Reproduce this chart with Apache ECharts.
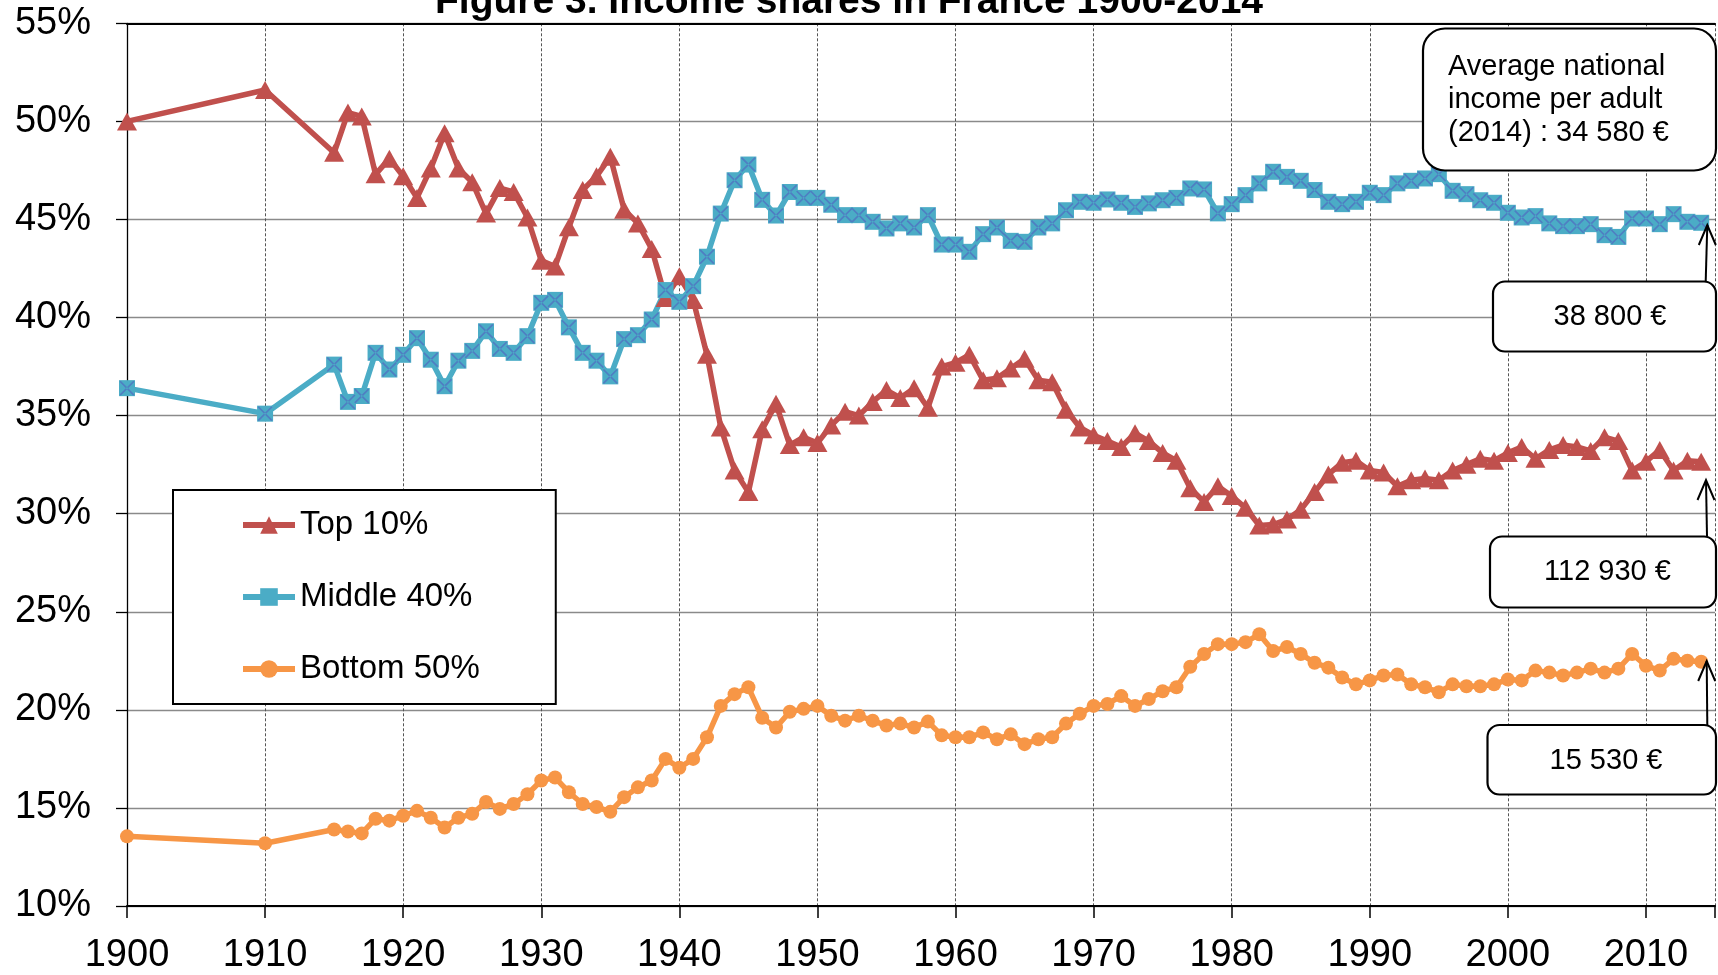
<!DOCTYPE html>
<html>
<head>
<meta charset="utf-8">
<script src="https://cdn.jsdelivr.net/npm/echarts/dist/echarts.min.js"></script>
<style>
html,body{margin:0;padding:0;background:#fff;}
#chart{width:1718px;height:975px;}
</style>
</head>
<body>
<div id="chart"></div>
<script>
var years = [1900,1910,1915,1916,1917,1918,1919,1920,1921,1922,1923,1924,1925,1926,1927,1928,1929,
1930,1931,1932,1933,1934,1935,1936,1937,1938,1939,1940,1941,1942,1943,1944,1945,1946,1947,1948,1949,
1950,1951,1952,1953,1954,1955,1956,1957,1958,1959,1960,1961,1962,1963,1964,1965,1966,1967,1968,1969,
1970,1971,1972,1973,1974,1975,1976,1977,1978,1979,1980,1981,1982,1983,1984,1985,1986,1987,1988,1989,
1990,1991,1992,1993,1994,1995,1996,1997,1998,1999,2000,2001,2002,2003,2004,2005,2006,2007,2008,2009,
2010,2011,2012,2013,2014];

var top10 = [50.0,51.6,48.4,50.45,50.25,47.3,48.1,47.2,46.1,47.6,49.4,47.6,46.9,45.3,46.6,46.4,45.1,
42.9,42.6,44.6,46.5,47.2,48.2,45.5,44.8,43.5,41.0,42.1,40.9,38.1,34.4,32.2,31.1,34.3,35.6,33.5,33.9,
33.6,34.5,35.2,35.0,35.7,36.3,35.9,36.4,35.4,37.5,37.7,38.1,36.8,36.9,37.4,37.9,36.8,36.7,35.3,34.4,
34.0,33.7,33.4,34.1,33.7,33.1,32.7,31.3,30.6,31.4,30.9,30.3,29.4,29.45,29.7,30.2,31.1,32.0,32.6,32.7,
32.2,32.1,31.4,31.7,31.8,31.7,32.2,32.5,32.8,32.7,33.1,33.4,32.8,33.25,33.5,33.4,33.2,33.9,33.7,32.2,
32.65,33.25,32.2,32.7,32.65];

var middle40 = [36.4,35.1,37.6,35.7,36.0,38.2,37.35,38.1,38.95,37.85,36.5,37.8,38.3,39.3,38.4,38.2,39.05,
40.75,40.9,39.5,38.2,37.8,37.0,38.9,39.1,39.9,41.4,40.8,41.6,43.1,45.3,47.0,47.8,46.0,45.2,46.4,46.1,
46.1,45.75,45.22,45.22,44.88,44.54,44.8,44.59,45.22,43.72,43.72,43.35,44.25,44.59,43.91,43.86,44.59,44.8,45.47,45.9,
45.85,46.02,45.85,45.64,45.82,45.98,46.1,46.58,46.53,45.31,45.78,46.24,46.84,47.43,47.17,46.97,46.5,45.9,45.78,45.9,
46.36,46.24,46.84,46.97,47.09,47.31,46.46,46.29,45.98,45.85,45.34,45.1,45.17,44.8,44.66,44.66,44.76,44.2,44.11,45.05,
45.05,44.76,45.27,44.88,44.83];

var bottom50 = [13.55,13.2,13.9,13.8,13.7,14.45,14.35,14.6,14.85,14.5,14.0,14.5,14.7,15.3,14.95,15.2,15.7,
16.4,16.55,15.8,15.2,15.05,14.8,15.55,16.05,16.4,17.5,17.05,17.5,18.6,20.2,20.8,21.15,19.6,19.1,19.9,20.05,
20.2,19.7,19.45,19.7,19.45,19.2,19.3,19.1,19.4,18.7,18.6,18.6,18.85,18.5,18.75,18.25,18.5,18.6,19.3,19.8,
20.2,20.3,20.7,20.2,20.55,20.95,21.15,22.2,22.85,23.35,23.35,23.45,23.85,23.0,23.2,22.85,22.4,22.15,21.65,21.3,
21.5,21.75,21.8,21.3,21.15,20.9,21.3,21.2,21.2,21.3,21.55,21.5,22.0,21.9,21.75,21.9,22.1,21.9,22.1,22.85,
22.25,22.0,22.6,22.5,22.45];

var seriesNames = ['Top 10%','Middle 40%','Bottom 50%'];
var titleText = 'Figure 3. Income shares in France 1900-2014';
var avgText = 'Average national\nincome per adult\n(2014) : 34 580 \u20ac';
var middleIncome = '38 800 \u20ac';
var topIncome = '112 930 \u20ac';
var bottomIncome = '15 530 \u20ac';

var FONT = '"Liberation Sans", Arial, Helvetica, sans-serif';
function pairs(arr){ return years.map(function(y,i){ return [y, arr[i]]; }); }

var xPath = 'path://M0,0.8L0.8,0L10,9.2L9.2,10Z M10,0.8L9.2,0L0,9.2L0.8,10Z';

var chart = echarts.init(document.getElementById('chart'), null, {renderer:'canvas'});

function box(x, y, w, h, r){
  return {type:'rect', shape:{x:x, y:y, width:w, height:h, r:r}, style:{fill:'#fff', stroke:'#000', lineWidth:2.2}, z:100};
}
function label(text, x, y, align){
  return {type:'text', z:101, style:{text:text, x:x, y:y, fill:'#000', font:'29px ' + FONT,
    align:align, verticalAlign:'middle', textAlign:align, textVerticalAlign:'middle', lineHeight:33.3}};
}
function arrow(x1, y1, x2, y2){
  return [
    {type:'line', z:101, shape:{x1:x1, y1:y1, x2:x2, y2:y2}, style:{stroke:'#000', lineWidth:2}},
    {type:'polyline', z:101, shape:{points:[[x2-8.5, y2+20],[x2, y2],[x2+8.5, y2+20]]}, style:{stroke:'#000', lineWidth:2, fill:null}}
  ];
}

var graphics = [
  {type:'text', z:101, style:{text:titleText, x:849, y:2, fill:'#000', font:'bold 39px ' + FONT,
    align:'center', verticalAlign:'middle', textAlign:'center', textVerticalAlign:'middle'}},
  box(1423, 28.5, 293, 142, 22),
  label(avgText, 1448, 100, 'left'),
  box(1493, 281.5, 223, 70, 12),
  label(middleIncome, 1610, 317, 'center'),
  box(1490, 536.5, 226, 71, 12),
  label(topIncome, 1607.5, 572, 'center'),
  box(1487.5, 725, 228.5, 69.5, 12),
  label(bottomIncome, 1606, 760.5, 'center')
].concat(arrow(1705.7, 281.5, 1707.3, 225))
 .concat(arrow(1707, 536.5, 1706, 480))
 .concat(arrow(1707.3, 725, 1706.7, 661));

var option = {
  backgroundColor:'#fff',
  animation:false,
  grid:{left:127, top:23.3, width:1593.3, height:883.7, containLabel:false},
  legend:{
    orient:'vertical', left:173, top:490,
    padding:[17, 76, 17, 67],
    itemWidth:52, itemHeight:22, itemGap:36,
    borderColor:'#000', borderWidth:2, backgroundColor:'#fff',
    lineStyle:{width:6},
    textStyle:{fontSize:33, fontFamily:FONT, color:'#000', lineHeight:36},
    data:seriesNames,
    z:50
  },
  xAxis:[{
    type:'value', min:1900, max:2015, interval:10,
    axisLine:{show:true, lineStyle:{color:'#000', width:2}},
    axisTick:{show:true, length:12, lineStyle:{color:'#000', width:1.5}},
    axisLabel:{fontSize:38, fontFamily:FONT, color:'#000', margin:31,
      formatter:function(v){ return v % 10 === 0 ? String(v) : ''; }},
    splitLine:{show:true, lineStyle:{color:'#555', width:1, type:[3,2]}}
  },{
    type:'value', min:1900, max:2015, position:'top',
    axisLine:{show:true, lineStyle:{color:'#000', width:2}},
    axisTick:{show:false}, axisLabel:{show:false}, splitLine:{show:false}
  }],
  yAxis:{
    type:'value', min:10, max:55, interval:5,
    axisLine:{show:true, lineStyle:{color:'#000', width:1.3}},
    axisTick:{show:true, length:11, lineStyle:{color:'#000', width:1.3}},
    axisLabel:{fontSize:38, fontFamily:FONT, color:'#000', margin:36, formatter:'{value}%'},
    splitLine:{show:true, lineStyle:{color:'#8a8a8a', width:1.3}}
  },
  series:[
    {name:seriesNames[0], type:'line', data:pairs(top10), symbol:'triangle', symbolSize:[20,18],
      showAllSymbol:true, color:'#C0504D', lineStyle:{width:5.5, color:'#C0504D'}, itemStyle:{color:'#C0504D'}},
    {name:seriesNames[1], type:'line', data:pairs(middle40), symbol:'rect', symbolSize:16,
      showAllSymbol:true, color:'#4BACC6', lineStyle:{width:5.5, color:'#4BACC6'}, itemStyle:{color:'#4BACC6'}},
    {name:'middle-cross', type:'line', data:pairs(middle40), symbol:xPath, symbolSize:15,
      showAllSymbol:true, lineStyle:{width:0, opacity:0}, itemStyle:{color:'#4F7EC2'}, silent:true, z:3},
    {name:seriesNames[2], type:'line', data:pairs(bottom50), symbol:'circle', symbolSize:14,
      showAllSymbol:true, color:'#F79646', lineStyle:{width:5.5, color:'#F79646'}, itemStyle:{color:'#F79646'}, z:4}
  ],
  graphic:graphics
};
chart.setOption(option);
</script>
</body>
</html>
